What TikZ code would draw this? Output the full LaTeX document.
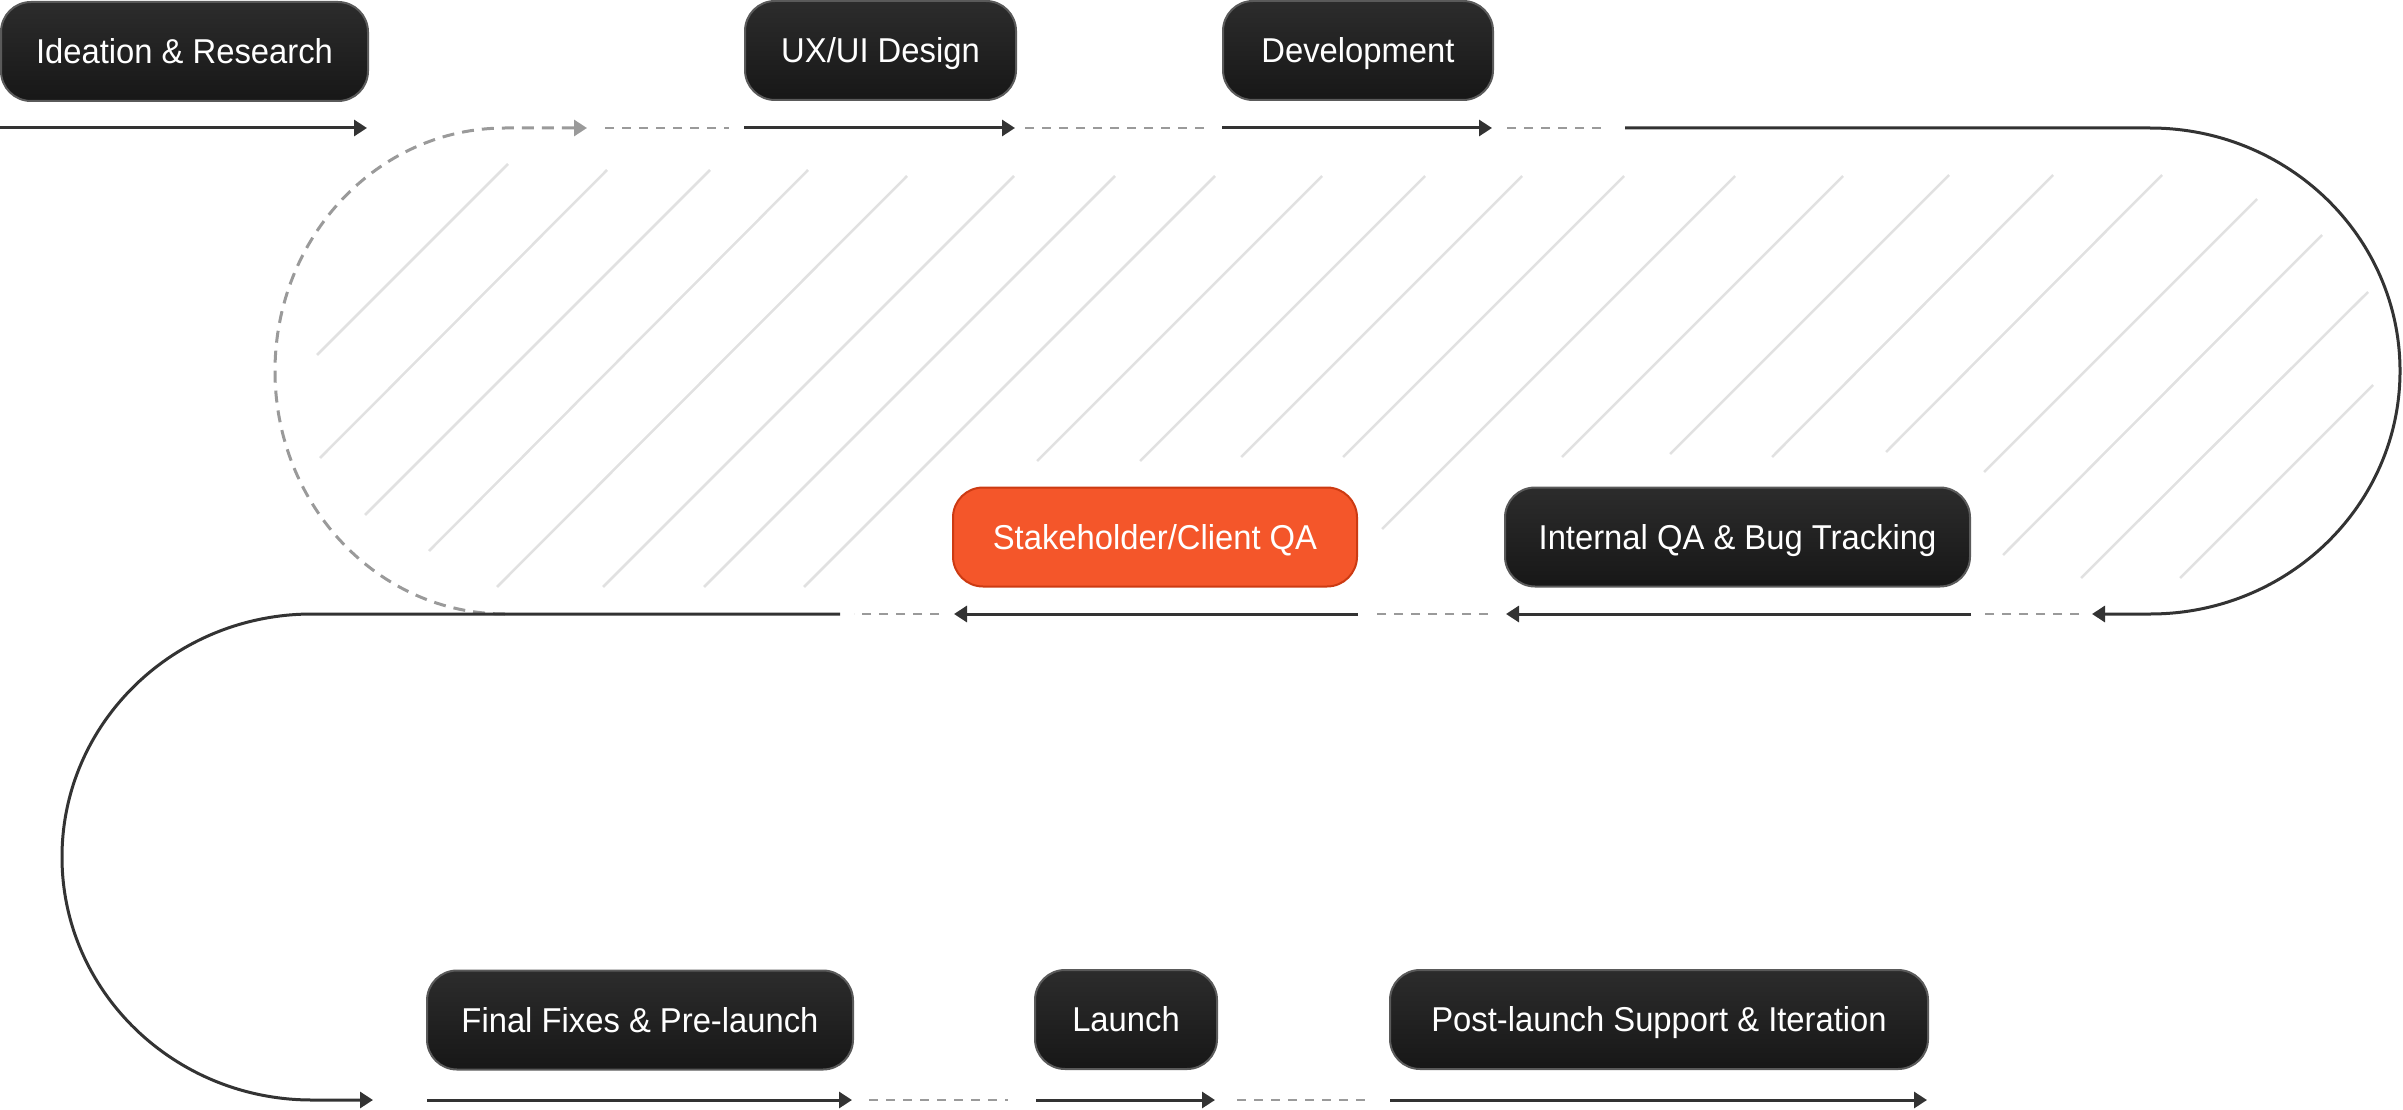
\documentclass[tikz,border=0pt]{standalone}
\usepackage{fontspec}
\setmainfont{Liberation Sans}[FakeStretch=0.95]
\usetikzlibrary{arrows.meta,calc}

\definecolor{ink}{HTML}{333333}
\definecolor{gapgray}{HTML}{9A9A9A}
\definecolor{hatchgray}{HTML}{E1E1E1}
\definecolor{boxtop}{HTML}{2C2C2C}
\definecolor{boxbot}{HTML}{171717}
\definecolor{boxedge}{HTML}{5A5A5A}
\definecolor{accent}{HTML}{F4562A}
\definecolor{accentedge}{HTML}{CC3A12}

\tikzset{
  stage/.style={rounded corners=30pt, minimum height=99pt, inner sep=0pt,
    text=white, font=\fontsize{34.5}{40}\selectfont,
    text height=24.7pt, text depth=0pt, line width=2pt},
  darkstage/.style={stage, draw=boxedge, top color=boxtop, bottom color=boxbot},
  hotstage/.style={stage, draw=accentedge, fill=accent},
  tip/.style={-{Triangle[length=13pt,width=16pt]}},
  flow/.style={draw=ink, line width=3pt, tip},
  gapline/.style={draw=gapgray, line width=2.5pt, dash pattern=on 9pt off 8pt},
  loopback/.style={draw=gapgray, line width=3pt, dash pattern=on 12pt off 8pt, tip},
  hatchline/.style={draw=hatchgray, line width=2.5pt},
}

\begin{document}
\begin{tikzpicture}[x=1pt,y=-1pt]
\useasboundingbox (0,0) rectangle (2403,1110);

% diagonal hatching inside the upper loop
\foreach \ax/\ay/\bx/\by in {
  508/164/317/355, 607/170/320/458, 710/170/365/515, 808/170/429/551,
  907/176/497/587, 1014/176/603/587, 1115/176/704/587, 1215/176/804/587,
  1322/176/1037/461, 1425/176/1140/461, 1522/176/1241/457, 1624/176/1343/457,
  1735/176/1382/529, 1843/176/1562/457, 1949/175/1670/454, 2053/175/1772/457,
  2162/175/1886/452, 2257/199/1984/472, 2322/235/2003/555, 2368/292/2081/578,
  2373/385/2180/578}
  \draw[hatchline] (\ax,\ay) -- (\bx,\by);

% row baselines
\coordinate (r1) at (0,128);
\coordinate (r2) at (0,614);
\coordinate (r3) at (0,1100);

% stages
\node[darkstage, minimum width=367pt] (ideation) at (184.5,51.5) {Ideation \& Research};
\node[darkstage, minimum width=271pt] (uxui) at (880.5,50.5) {UX/UI Design};
\node[darkstage, minimum width=270pt] (dev) at (1358,50.5) {Development};
\node[hotstage, minimum width=404pt] (stake) at (1155,537) {Stakeholder/Client QA};
\node[darkstage, minimum width=465pt] (intqa) at (1737.5,537) {Internal QA \& Bug Tracking};
\node[darkstage, minimum width=426pt] (final) at (640,1020) {Final Fixes \& Pre-launch};
\node[darkstage, minimum width=182pt] (launch) at (1126,1019.5) {Launch};
\node[darkstage, minimum width=538pt] (post) at (1659,1019.5) {Post-launch Support \& Iteration};

% ends of the dashed gaps and of the bends
\coordinate (g1a) at (605,128);  \coordinate (g1b) at (729,128);
\coordinate (g2a) at (1025,128); \coordinate (g2b) at (1207,128);
\coordinate (g3a) at (1507,128); \coordinate (g3b) at (1606,128);
\coordinate (g4a) at (2079,614); \coordinate (g4b) at (1984,614);
\coordinate (g5a) at (1488,614); \coordinate (g5b) at (1377,614);
\coordinate (g6a) at (939,614);  \coordinate (g6b) at (854,614);
\coordinate (g7a) at (869,1100); \coordinate (g7b) at (1008,1100);
\coordinate (g8a) at (1237,1100); \coordinate (g8b) at (1369,1100);
\coordinate (bendR) at (1625,128);
\coordinate (bendRin) at (2092,614);
\coordinate (bendL) at (840,614);
\coordinate (bendLin) at (373,1100);
\coordinate (loopA) at (505,614);
\coordinate (loopB) at (587,128);

% dashed loop back to the design phase
\draw[loopback] (loopA) arc[start angle=90, end angle=270, x radius=230, y radius=243] -- (loopB);

% arrows under each stage
\draw[flow] (ideation.west |- r1) -- ($(ideation.east |- r1)+(-2,0)$);
\draw[flow] (uxui.west |- r1) -- ($(uxui.east |- r1)+(-2,0)$);
\draw[flow] (dev.west |- r1) -- ($(dev.east |- r1)+(-2,0)$);
\draw[flow] (intqa.east |- r2) -- ($(intqa.west |- r2)+(2,0)$);
\draw[flow] (stake.east |- r2) -- ($(stake.west |- r2)+(2,0)$);
\draw[flow] ($(final.west |- r3)+(1,0)$) -- ($(final.east |- r3)+(-2,0)$);
\draw[flow] ($(launch.west |- r3)+(2,0)$) -- ($(launch.east |- r3)+(-3,0)$);
\draw[flow] ($(post.west |- r3)+(1,0)$) -- ($(post.east |- r3)+(-2,0)$);

% bends between rows
\draw[flow] (bendR) -- (2150,128) arc[start angle=-90, end angle=90, x radius=250, y radius=243] -- (bendRin);
\draw[flow] (bendL) -- (312,614) arc[start angle=270, end angle=90, x radius=250, y radius=243] -- (bendLin);

% dashed gaps
\foreach \a/\b in {g1a/g1b, g2a/g2b, g3a/g3b, g4a/g4b, g5a/g5b, g6a/g6b, g7a/g7b, g8a/g8b}
  \draw[gapline] (\a) -- (\b);
\end{tikzpicture}
\end{document}
